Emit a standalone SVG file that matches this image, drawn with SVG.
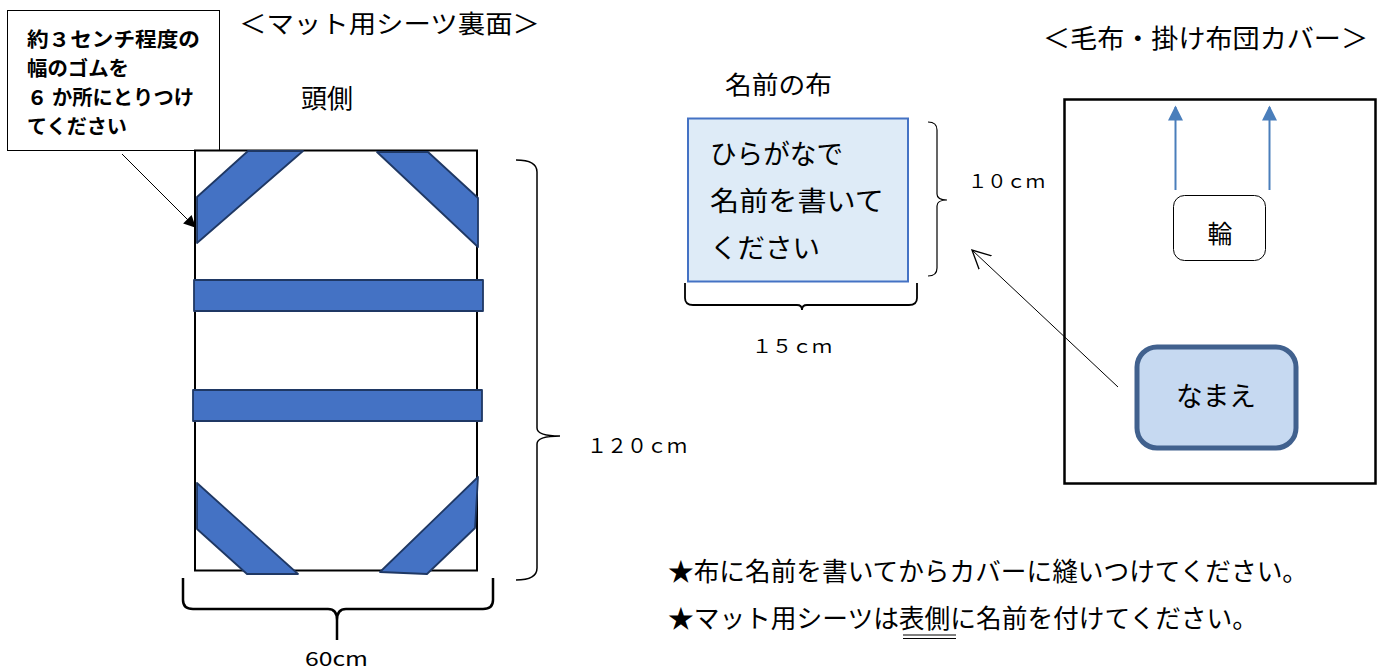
<svg xmlns="http://www.w3.org/2000/svg" width="1384" height="670" viewBox="0 0 1384 670">
<style>
text{font-family:"Noto Sans CJK JP","Noto Sans",sans-serif;fill:#000}
.band{fill:#4472C4;stroke:#1F3864;stroke-width:1.8;stroke-linejoin:round}
.brace{fill:none;stroke:#000;stroke-width:1.5}
</style>
<defs>
<marker id="blk" viewBox="0 0 10 10" refX="9" refY="5" markerWidth="16" markerHeight="12" markerUnits="userSpaceOnUse" orient="auto">
<path d="M0,0 L10,5 L0,10 z" fill="#000"/>
</marker>
<marker id="blue" viewBox="0 0 10 10" refX="9" refY="5" markerWidth="16" markerHeight="15" markerUnits="userSpaceOnUse" orient="auto">
<path d="M0,0 L10,5 L0,10 z" fill="#4A7EBB"/>
</marker>
<marker id="open" viewBox="0 0 12 12" refX="11" refY="6" markerWidth="20" markerHeight="20" markerUnits="userSpaceOnUse" orient="auto">
<path d="M0,0.5 L11,6 L0,11.5" fill="none" stroke="#000" stroke-width="0.8"/>
</marker>
</defs>
<rect width="1384" height="670" fill="#fff"/>

<g id="title-mat">
<text x="239" y="33" font-size="25" textLength="301" lengthAdjust="spacingAndGlyphs">＜マット用シーツ裏面＞</text>
</g>
<g id="title-cover">
<text x="1043" y="48" font-size="26" textLength="325" lengthAdjust="spacingAndGlyphs">＜毛布・掛け布団カバー＞</text>
</g>

<g id="callout">
<rect x="7.5" y="10.5" width="212" height="140" fill="#fff" stroke="#000" stroke-width="1"/>
<text font-size="20" font-weight="bold">
<tspan x="27" y="47" textLength="173" lengthAdjust="spacingAndGlyphs">約３センチ程度の</tspan>
<tspan x="27" y="76" textLength="102" lengthAdjust="spacingAndGlyphs">幅のゴムを</tspan>
<tspan x="27" y="105" textLength="167" lengthAdjust="spacingAndGlyphs">６ か所にとりつけ</tspan>
<tspan x="27" y="134" textLength="100" lengthAdjust="spacingAndGlyphs">てください</tspan>
</text>
</g>

<g id="head-label">
<text x="301" y="108" font-size="26">頭側</text>
</g>

<g id="mat-sheet">
<rect x="195" y="150.5" width="282" height="420" fill="#fff" stroke="#000" stroke-width="2"/>
<polygon class="band" points="197,197 248,151 303,151 197,243"/>
<polygon class="band" points="377,152 428,152 478,198 478,247"/>
<rect class="band" x="194" y="280" width="289" height="31"/>
<rect class="band" x="193" y="390" width="289" height="31"/>
<polygon class="band" points="197,483 298,574 247,574 197,529"/>
<polygon class="band" points="478,477 475,528 427,574 380,572"/>
</g>

<g id="dim-120">
<path class="brace" d="M516,160 Q537,160 537,172 L537,428 Q537,436 560,436 Q537,436 537,444 L537,568 Q537,580 516,580"/>
<text x="587" y="453" font-size="20" textLength="100" lengthAdjust="spacingAndGlyphs">１２０ｃｍ</text>
</g>

<g id="dim-60">
<path class="brace" style="stroke-width:2.5" d="M183,578 L183,600 Q183,609 193,609 L328,609 Q337,609 337,620 L337,640 M337,620 Q337,609 346,609 L483,609 Q493,609 493,600 L493,578"/>
<text x="305" y="666" font-size="19" textLength="63" lengthAdjust="spacingAndGlyphs">60cm</text>
</g>

<g id="name-cloth">
<text x="725" y="94" font-size="25" textLength="107" lengthAdjust="spacingAndGlyphs">名前の布</text>
<rect x="688" y="118.5" width="220" height="163" fill="#DEEBF7" stroke="#4472C4" stroke-width="2"/>
<text font-size="27">
<tspan x="710" y="164" textLength="133" lengthAdjust="spacingAndGlyphs">ひらがなで</tspan>
<tspan x="710" y="211" textLength="174" lengthAdjust="spacingAndGlyphs">名前を書いて</tspan>
<tspan x="710" y="258" textLength="110" lengthAdjust="spacingAndGlyphs">ください</tspan>
</text>
</g>

<g id="dim-10">
<path class="brace" style="stroke-width:1.2" d="M928,122 Q937,122 937,130 L937,194 Q937,200 947,200 Q937,200 937,206 L937,268 Q937,276 928,276"/>
<text x="968" y="188" font-size="18" textLength="77" lengthAdjust="spacingAndGlyphs">１０ｃｍ</text>
</g>

<g id="dim-15">
<path class="brace" style="stroke-width:1.8" d="M685,283 L685,298 Q685,305 693,305 L797,305 Q802,305 802,310 M802,310 Q802,305 807,305 L909,305 Q917,305 917,298 L917,283"/>
<text x="752" y="353" font-size="18" textLength="80" lengthAdjust="spacingAndGlyphs">１５ｃｍ</text>
</g>

<g id="cover">
<rect x="1064.5" y="99.5" width="311" height="384" fill="#fff" stroke="#000" stroke-width="2.5"/>
</g>

<g id="ring">
<rect x="1173.5" y="195.5" width="92" height="65" rx="11" fill="#fff" stroke="#000" stroke-width="1"/>
<text x="1220" y="243" font-size="25" text-anchor="middle">輪</text>
</g>

<g id="name-patch">
<rect x="1137" y="347" width="159" height="101" rx="20" fill="#C6D9F1" stroke="#41618E" stroke-width="5"/>
<text x="1216" y="406" font-size="27" text-anchor="middle" textLength="80" lengthAdjust="spacingAndGlyphs">なまえ</text>
</g>

<g id="connectors">
<line x1="122" y1="154" x2="195" y2="227" stroke="#000" stroke-width="1" marker-end="url(#blk)"/>
<line x1="1175.5" y1="190" x2="1175.5" y2="107" stroke="#4A7EBB" stroke-width="2" marker-end="url(#blue)"/>
<line x1="1269.5" y1="190" x2="1269.5" y2="107" stroke="#4A7EBB" stroke-width="2" marker-end="url(#blue)"/>
<line x1="1118" y1="387" x2="972" y2="250" stroke="#000" stroke-width="1" marker-end="url(#open)"/>
</g>

<g id="notes">
<text x="668" y="581" font-size="25.6" textLength="640" lengthAdjust="spacingAndGlyphs">★布に名前を書いてからカバーに縫いつけてください。</text>
<text x="668" y="628" font-size="25.6" textLength="590" lengthAdjust="spacingAndGlyphs">★マット用シーツは表側に名前を付けてください。</text>
<line x1="903" y1="635" x2="956" y2="635" stroke="#000" stroke-width="1.2"/>
<line x1="903" y1="638.5" x2="956" y2="638.5" stroke="#000" stroke-width="1.2"/>
</g>
</svg>
